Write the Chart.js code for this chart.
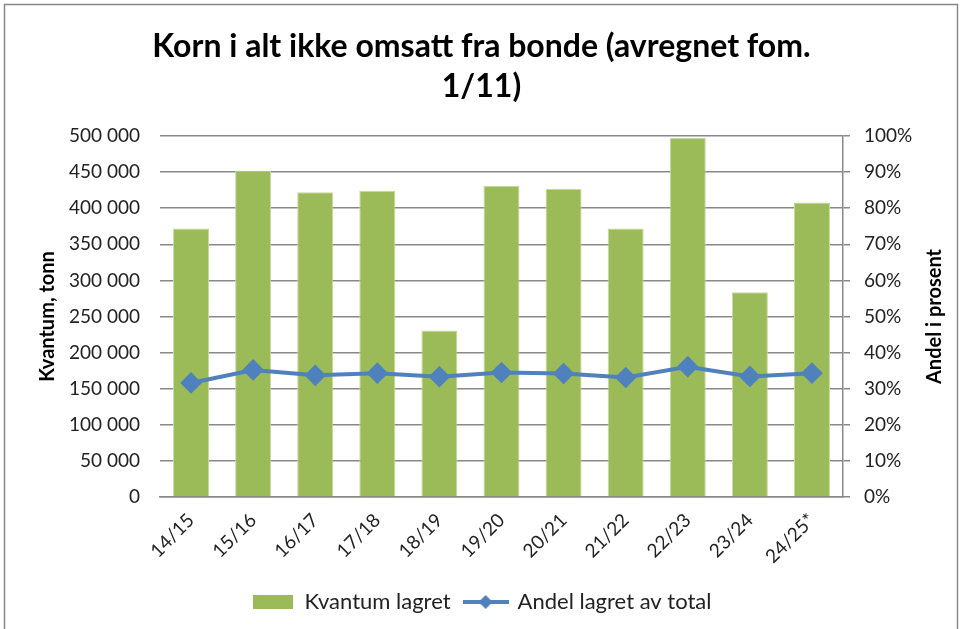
<!DOCTYPE html>
<html>
<head>
<meta charset="utf-8">
<script src="https://cdn.jsdelivr.net/npm/chart.js@4"></script>
<style>
  html, body { margin: 0; padding: 0; background: #fff; }
  #wrap { width: 963px; height: 629px; }
</style>
</head>
<body>
<div id="wrap"><canvas id="chart" width="963" height="629"></canvas></div>
<script>
var seasons = ['14/15', '15/16', '16/17', '17/18', '18/19', '19/20', '20/21', '21/22', '22/23', '23/24', '24/25*'];
var kvantum = [372000, 452000, 422000, 424000, 230500, 431000, 427000, 372000, 497500, 283500, 408000];
var andel = [31.6, 35.2, 33.7, 34.3, 33.3, 34.5, 34.2, 33.1, 36.1, 33.4, 34.3];
var kvantumTicks = [0, 50000, 100000, 150000, 200000, 250000, 300000, 350000, 400000, 450000, 500000];

var FONT = 'Lato, "Open Sans", sans-serif';
var green = '#9BBB59';
var blue = '#4F81BD';
var gridGray = '#898989';

function spaced(v) {
    return String(v).replace(/\B(?=(\d{3})+(?!\d))/g, ' ');
}

// legend icons
var boxIcon = document.createElement('canvas');
boxIcon.width = 40; boxIcon.height = 14;
var bctx = boxIcon.getContext('2d');
bctx.fillStyle = green;
bctx.fillRect(0, 0, 40, 14);

var lineIcon = document.createElement('canvas');
lineIcon.width = 46; lineIcon.height = 16;
var lctx = lineIcon.getContext('2d');
lctx.strokeStyle = blue;
lctx.lineWidth = 4;
lctx.beginPath(); lctx.moveTo(0, 8); lctx.lineTo(46, 8); lctx.stroke();
lctx.fillStyle = blue;
lctx.beginPath(); lctx.moveTo(23, 1); lctx.lineTo(30, 8); lctx.lineTo(23, 15); lctx.lineTo(16, 8); lctx.closePath(); lctx.fill();

var extras = {
    id: 'extras',
    afterDraw: function (chart) {
        var ctx = chart.ctx;
        var area = chart.chartArea;
        var midY = (area.top + area.bottom) / 2;
        ctx.save();
        ctx.strokeStyle = '#888';
        ctx.lineWidth = 1.5;
        ctx.strokeRect(4.5, 4.5, 953, 640);
        ctx.restore();
        [[48, 'Kvantum, tonn'], [935, 'Andel i prosent']].forEach(function (t) {
            ctx.save();
            ctx.fillStyle = '#000';
            ctx.font = 'bold 20px ' + FONT;
            ctx.textAlign = 'center';
            ctx.textBaseline = 'middle';
            ctx.translate(t[0], midY);
            ctx.rotate(-Math.PI / 2);
            ctx.fillText(t[1], 0, 0);
            ctx.restore();
        });
    }
};

new Chart(document.getElementById('chart'), {
    data: {
        labels: seasons,
        datasets: [
            {
                type: 'line',
                label: 'Andel lagret av total',
                data: andel,
                yAxisID: 'y1',
                borderColor: blue,
                backgroundColor: blue,
                borderWidth: 4,
                pointStyle: 'rectRot',
                pointRadius: 8,
                pointBackgroundColor: blue,
                pointBorderColor: blue,
                order: 1
            },
            {
                type: 'bar',
                label: 'Kvantum lagret',
                data: kvantum,
                yAxisID: 'y',
                backgroundColor: green,
                borderColor: '#c6d9a0',
                borderWidth: 1,
                categoryPercentage: 1,
                barPercentage: 0.58,
                order: 2
            }
        ]
    },
    options: {
        responsive: false,
        animation: false,
        layout: { padding: { left: 0, right: 0, top: 0, bottom: 6 } },
        plugins: {
            title: {
                display: true,
                text: ['Korn i alt ikke omsatt fra bonde (avregnet fom.', '1/11)'],
                color: '#000',
                font: { family: FONT, size: 32, weight: 'bold', lineHeight: 1.25 },
                padding: { top: 27, bottom: 29 }
            },
            legend: {
                position: 'bottom',
                labels: {
                    usePointStyle: true,
                    pointStyleWidth: 42,
                    padding: 14,
                    color: '#222',
                    font: { family: FONT, size: 22 },
                    generateLabels: function (chart) {
                        return [
                            { text: 'Kvantum lagret', pointStyle: boxIcon, datasetIndex: 1, fontColor: '#222', lineWidth: 0 },
                            { text: 'Andel lagret av total', pointStyle: lineIcon, datasetIndex: 0, fontColor: '#222', lineWidth: 0 }
                        ];
                    }
                }
            },
            tooltip: { enabled: false }
        },
        scales: {
            x: {
                grid: { display: false },
                border: { display: true, color: gridGray, width: 1.5 },
                ticks: {
                    color: '#222',
                    font: { family: FONT, size: 19 },
                    minRotation: 45,
                    maxRotation: 45,
                    padding: 4
                },
                afterFit: function (scale) { scale.height = 80; }
            },
            y: {
                position: 'left',
                min: 0,
                max: 500000,
                afterBuildTicks: function (scale) {
                    scale.ticks = kvantumTicks.map(function (v) { return { value: v }; });
                },
                grid: { color: gridGray, lineWidth: 1.5, drawTicks: false },
                border: { display: false },
                ticks: {
                    color: '#222',
                    font: { family: FONT, size: 19 },
                    padding: 20,
                    callback: function (v) { return spaced(v); }
                },
                afterFit: function (scale) { scale.width = 160; }
            },
            y1: {
                position: 'right',
                min: 0,
                max: 100,
                grid: { drawOnChartArea: false, color: gridGray, lineWidth: 1.5, tickLength: 7 },
                border: { display: true, color: gridGray, width: 1.5 },
                ticks: {
                    stepSize: 10,
                    color: '#222',
                    font: { family: FONT, size: 19 },
                    padding: 14,
                    callback: function (v) { return v + '%'; }
                },
                afterFit: function (scale) { scale.width = 120; }
            }
        }
    },
    plugins: [extras]
});
</script>
</body>
</html>
